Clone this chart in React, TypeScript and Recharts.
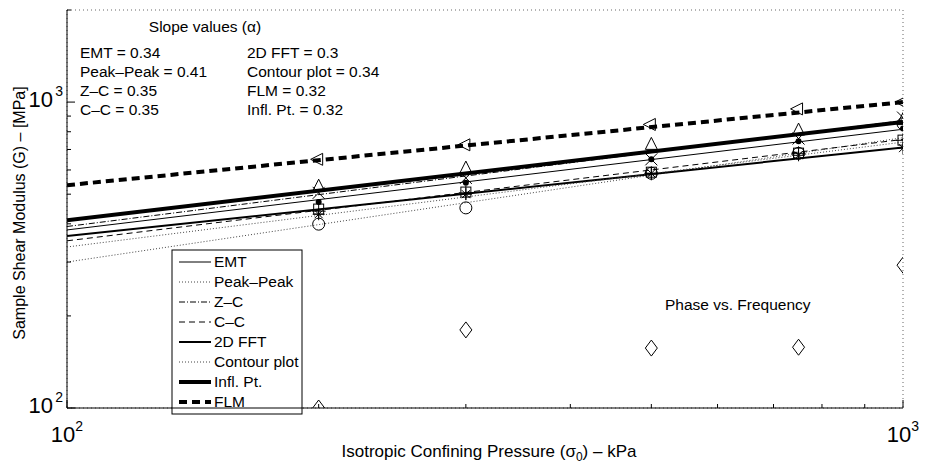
import React from 'react';
import {
  ComposedChart,
  Scatter,
  XAxis,
  YAxis,
  CartesianGrid,
  Customized,
} from 'recharts';

// confining pressures (kPa) where each method was measured
const pressures = [200, 300, 500, 750, 1000];
// ends of the power-law fits
const fitRange = [100, 1000];

// fit values (MPa) at 100 and 1000 kPa
const emtFit = [382, 815];
const peakFit = [300, 765];
const zcFit = [392, 870];
const ccFit = [352, 755];
const fftFit = [365, 711];
const contourFit = [336, 740];
const inflFit = [411, 861];
const flmFit = [535, 1000];

// measured G (MPa) at each pressure
const emtPts = [471, 545, 650, 745, 820];
const peakPts = [399, 451, 585, 680, 850];
const zcPts = [505, 565, 650, 760, 890];
const ccPts = [440, 505, 585, 680, 750];
const fftPts = [447, 508, 590, 681, 751];
const contourPts = [430, 500, 585, 670, 707];
const inflPts = [527, 604, 722, 804, 870];
const flmPts = [650, 725, 845, 950, 1000];
const phasePts = [100, 180, 157, 158, 293];

const slopeLeft = ['EMT = 0.34', 'Peak\u2013Peak = 0.41', 'Z\u2013C = 0.35', 'C\u2013C = 0.35'];
const slopeRight = ['2D FFT = 0.3', 'Contour plot = 0.34', 'FLM = 0.32', 'Infl. Pt. = 0.32'];

const xTicks = [100, 200, 300, 400, 500, 600, 700, 800, 900, 1000];
const yTicks = [100, 200, 300, 400, 500, 600, 700, 800, 900, 1000, 2000];

const FONT = '"Liberation Sans", Arial, Helvetica, sans-serif';

const toPts = (xs: number[], ys: number[]) => xs.map((x, i) => ({ x, y: ys[i] }));

const series = [
  { name: 'EMT', fit: emtFit, pts: emtPts, marker: 'dot', width: 1, dash: undefined, color: '#000' },
  { name: 'Peak\u2013Peak', fit: peakFit, pts: peakPts, marker: 'o', width: 1, dash: '1 2', color: '#444' },
  { name: 'Z\u2013C', fit: zcFit, pts: zcPts, marker: 'x', width: 1, dash: '6 2 1 2', color: '#000' },
  { name: 'C\u2013C', fit: ccFit, pts: ccPts, marker: '+', width: 1, dash: '6 4', color: '#000' },
  { name: '2D FFT', fit: fftFit, pts: fftPts, marker: 's', width: 2, dash: undefined, color: '#000' },
  { name: 'Contour plot', fit: contourFit, pts: contourPts, marker: '*', width: 1, dash: '1 2', color: '#444' },
  { name: 'Infl. Pt.', fit: inflFit, pts: inflPts, marker: '^', width: 4, dash: undefined, color: '#000' },
  { name: 'FLM', fit: flmFit, pts: flmPts, marker: '<', width: 4, dash: '8 5', color: '#000' },
];

const markerShape = (kind: string) => (props: any) => {
  const { cx, cy } = props;
  const s = 6;
  const st = { stroke: '#000', strokeWidth: 1, fill: 'none' };
  switch (kind) {
    case 'dot':
      return <circle cx={cx} cy={cy} r={3} fill="#000" />;
    case 'o':
      return <circle cx={cx} cy={cy} r={s} {...st} />;
    case 'x':
      return (
        <path d={`M${cx - s},${cy - s}L${cx + s},${cy + s}M${cx - s},${cy + s}L${cx + s},${cy - s}`} {...st} />
      );
    case '+':
      return <path d={`M${cx - s - 1},${cy}L${cx + s + 1},${cy}M${cx},${cy - s - 1}L${cx},${cy + s + 1}`} {...st} />;
    case 's':
      return <rect x={cx - 5} y={cy - 5} width={10} height={10} {...st} />;
    case '*':
      return (
        <path
          d={`M${cx - s},${cy}L${cx + s},${cy}M${cx},${cy - s}L${cx},${cy + s}M${cx - 4},${cy - 4}L${cx + 4},${cy + 4}M${cx - 4},${cy + 4}L${cx + 4},${cy - 4}`}
          {...st}
        />
      );
    case '^':
      return <path d={`M${cx},${cy - 8}L${cx + 6},${cy + 4}L${cx - 6},${cy + 4}Z`} {...st} />;
    case '<':
      return <path d={`M${cx - 8},${cy}L${cx + 4},${cy - 6}L${cx + 4},${cy + 6}Z`} {...st} />;
    case 'd':
      return <path d={`M${cx},${cy - 8}L${cx + 6},${cy}L${cx},${cy + 8}L${cx - 6},${cy}Z`} {...st} />;
    default:
      return <g />;
  }
};

const noShape = () => <g />;

const isMajor = (v: number) => v === 100 || v === 1000;

const XTickBottom = (props: any) => {
  const { x, y, payload } = props;
  const v = payload.value;
  return (
    <g>
      <line x1={x} x2={x} y1={y} y2={y - (isMajor(v) ? 8 : 4)} stroke="#000" />
      {isMajor(v) && (
        <text x={x} y={y + 34} textAnchor="middle" fontSize={22} fontFamily={FONT} fill="#000">
          10
          <tspan dy={-11} fontSize={14}>
            {Math.round(Math.log10(v))}
          </tspan>
        </text>
      )}
    </g>
  );
};

const YTickLeft = (props: any) => {
  const { x, y, payload } = props;
  const v = payload.value;
  return (
    <g>
      <line x1={x} x2={x + (isMajor(v) ? 8 : 4)} y1={y} y2={y} stroke="#000" />
      {isMajor(v) && (
        <text x={x - 14} y={y + 5} textAnchor="end" fontSize={22} fontFamily={FONT} fill="#000">
          10
        </text>
      )}
      {isMajor(v) && (
        <text x={x - 4} y={y - 6} textAnchor="end" fontSize={14} fontFamily={FONT} fill="#000">
          {Math.round(Math.log10(v))}
        </text>
      )}
    </g>
  );
};

const Annotations = () => (
  <g fontFamily={FONT} fill="#000">
    <text x={205} y={32} fontSize={15.5} textAnchor="middle">
      Slope values ({'\u03b1'})
    </text>
    {slopeLeft.map((t, i) => (
      <text key={t} x={80} y={58 + i * 19} fontSize={15.5}>
        {t}
      </text>
    ))}
    {slopeRight.map((t, i) => (
      <text key={t} x={247} y={58 + i * 19} fontSize={15.5}>
        {t}
      </text>
    ))}
    <text x={665} y={310} fontSize={15.5}>
      Phase vs. Frequency
    </text>
    {/* legend */}
    <rect x={172} y={250} width={130} height={164} fill="#fff" stroke="#000" strokeWidth={1} />
    {series.map((s, i) => (
      <g key={s.name}>
        <line
          x1={179}
          x2={211}
          y1={262 + i * 20}
          y2={262 + i * 20}
          stroke={s.color}
          strokeWidth={s.width}
          strokeDasharray={s.dash}
        />
        <text x={214} y={267 + i * 20} fontSize={15.5}>
          {s.name}
        </text>
      </g>
    ))}
    <text x={25} y={213} fontSize={16} textAnchor="middle" transform="rotate(-90 25 213)">
      Sample Shear Modulus (G) {'\u2013'} [MPa]
    </text>
    <text x={489} y={457} fontSize={17} textAnchor="middle">
      Isotropic Confining Pressure ({'\u03c3'}
      <tspan dy={4} fontSize={12}>
        0
      </tspan>
      <tspan dy={-4}>) {'\u2013'} kPa</tspan>
    </text>
  </g>
);

export default function App() {
  return (
    <div style={{ position: 'absolute', left: 0, top: 0, background: '#fff' }}>
      <ComposedChart width={928} height={467} margin={{ top: 10, right: 25, bottom: 0, left: 0 }}>
        <CartesianGrid stroke="#666" strokeDasharray="1 3" strokeWidth={1} />
        <XAxis
          xAxisId="b"
          dataKey="x"
          type="number"
          scale="log"
          domain={[100, 1000]}
          allowDataOverflow
          ticks={xTicks}
          interval={0}
          height={59}
          tickSize={0}
          tickMargin={0}
          tick={<XTickBottom />}
          axisLine={{ stroke: '#000' }}
        />
        <YAxis
          yAxisId="l"
          dataKey="y"
          type="number"
          scale="log"
          domain={[100, 2000]}
          allowDataOverflow
          ticks={yTicks}
          interval={0}
          width={67}
          tickSize={0}
          tickMargin={0}
          tick={<YTickLeft />}
          axisLine={{ stroke: '#000' }}
        />
        {series.map((s) => (
          <Scatter
            key={`fit-${s.name}`}
            xAxisId="b"
            yAxisId="l"
            data={toPts(fitRange, s.fit)}
            line={{ stroke: s.color, strokeWidth: s.width, strokeDasharray: s.dash }}
            shape={noShape}
            isAnimationActive={false}
          />
        ))}
        {series.map((s) => (
          <Scatter
            key={`pts-${s.name}`}
            xAxisId="b"
            yAxisId="l"
            data={toPts(pressures, s.pts)}
            shape={markerShape(s.marker)}
            isAnimationActive={false}
          />
        ))}
        <Scatter
          xAxisId="b"
          yAxisId="l"
          data={toPts(pressures, phasePts)}
          shape={markerShape('d')}
          isAnimationActive={false}
        />
        <Customized component={<Annotations />} />
      </ComposedChart>
    </div>
  );
}
